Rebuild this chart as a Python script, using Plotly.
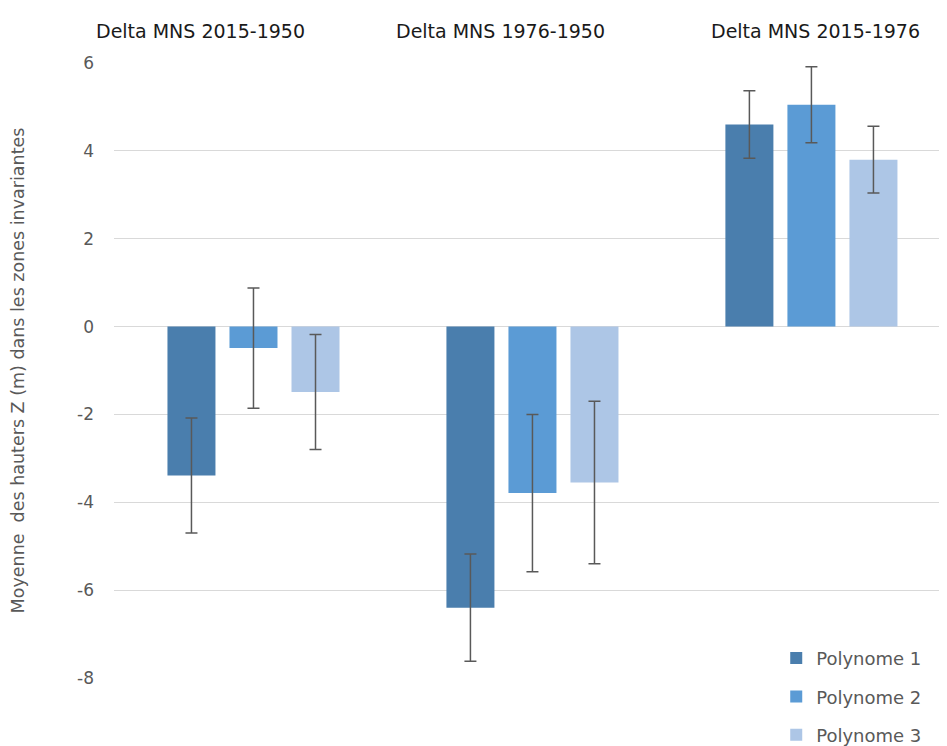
import plotly.graph_objects as go

categories = ["Delta MNS 2015-1950", "Delta MNS 1976-1950", "Delta MNS 2015-1976"]
series_names = ["Polynome 1", "Polynome 2", "Polynome 3"]
p1_values = [-3.39, -6.40, 4.60]
p2_values = [-0.49, -3.79, 5.05]
p3_values = [-1.49, -3.55, 3.80]
p1_errors = [1.31, 1.22, 0.77]
p2_errors = [1.37, 1.79, 0.865]
p3_errors = [1.31, 1.85, 0.76]
y_ticks = [6, 4, 2, 0, -2, -4, -6, -8]
y_tick_labels = ["6", "4", "2", "0", "-2", "-4", "-6", "-8"]
y_title = "Moyenne  des hauters Z (m) dans les zones invariantes"

colors = ["#4A7EAD", "#5B9BD5", "#ADC6E6"]
values = [p1_values, p2_values, p3_values]
errors = [p1_errors, p2_errors, p3_errors]

fig = go.Figure()
for name, vals, errs, col in zip(series_names, values, errors, colors):
    fig.add_trace(go.Bar(
        x=list(range(len(categories))), y=vals, name=name, legendgroup=name,
        marker=dict(color=col, line=dict(width=0)),
        error_y=dict(type="data", array=errs, symmetric=True,
                     color="#595959", thickness=1.5, width=6),
    ))

# category labels above the plot (positions in category units)
label_offsets = [-0.19, -0.113, 0.016]
for i, (cat, off) in enumerate(zip(categories, label_offsets)):
    fig.add_annotation(x=i + off, y=1.052, xref="x", yref="paper",
                       text=cat, showarrow=False, xanchor="center", yanchor="middle",
                       font=dict(family="DejaVu Sans", size=19, color="#1a1a1a"))

fig.update_layout(
    width=947, height=746,
    margin=dict(l=106, r=8, t=55, b=76, autoexpand=False),
    paper_bgcolor="white", plot_bgcolor="white",
    barmode="group", bargap=0.333, bargroupgap=0.226,
    font=dict(family="DejaVu Sans", color="#595959"),
    xaxis=dict(range=[-0.5, 2.486], showticklabels=False, showgrid=False,
               zeroline=False, showline=False, ticks="", automargin=False),
    yaxis=dict(range=[-8, 6], tickvals=y_ticks, ticktext=y_tick_labels,
               showgrid=True, gridcolor="#D9D9D9",
               gridwidth=1, zeroline=True, zerolinecolor="#D9D9D9", zerolinewidth=1,
               showline=False, ticks="", ticklabelstandoff=19, automargin=False,
               tickfont=dict(family="DejaVu Sans", size=17, color="#595959"),
               title=dict(text=y_title, standoff=47,
                          font=dict(family="DejaVu Sans", size=17.5, color="#595959"))),
    legend=dict(orientation="v", x=0.795, xanchor="left", y=0.062, yanchor="top",
                tracegroupgap=12, font=dict(family="DejaVu Sans", size=18, color="#595959"),
                bgcolor="rgba(0,0,0,0)"),
    showlegend=True,
)

fig.write_html("out.html")
